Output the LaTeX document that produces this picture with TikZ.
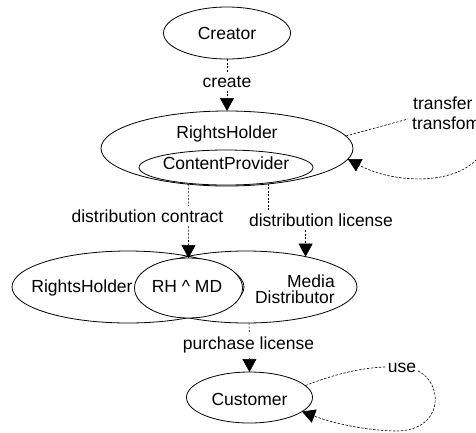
\documentclass[tikz,border=0pt]{standalone}
\usepackage{fontspec}
\setmainfont{Liberation Sans}
\usetikzlibrary{arrows.meta,shapes.geometric,calc}

\begin{document}
\begin{tikzpicture}[x=1pt,y=-1pt,
  every node/.style={font=\fontsize{17.5}{17.5}\selectfont},
  oval/.style={draw, ellipse, line width=0.8pt, inner sep=0pt, outer sep=0pt},
  txt/.style={inner sep=0pt, anchor=base},
  lbl/.style={inner xsep=1.5pt, inner ysep=3pt, anchor=base, fill=white},
  tip/.style={-{Triangle[width=14pt,length=13pt]}},
  flow/.style={tip, line width=0.6pt, dash pattern=on 2pt off 1.5pt},
  loopflow/.style={tip, line width=0.6pt, dash pattern=on 2.5pt off 1.5pt},
]
\useasboundingbox (0,0) rectangle (476,432);
\fill[white] (0,0) rectangle (476,432);
\clip (0,0) rectangle (476,432);

% top: creator
\node[oval, minimum width=127pt, minimum height=52pt] (creator) at (227,33) {};
\node[txt] (creatorT) at (227,39.4) {Creator};

% rights holder with content provider inside
\node[oval, minimum width=252pt, minimum height=75pt] (rh) at (227,148.5) {};
\node[txt] (rhT) at (227,138) {RightsHolder};
\node[oval, minimum width=174pt, minimum height=35pt] (cp) at (226,167.5) {};
\node[txt] (cpT) at (226,169) {ContentProvider};

% overlapping pair: rights holder and media distributor
\node[oval, minimum width=232pt, minimum height=72pt] (rhL) at (128,287) {};
\node[oval, minimum width=222pt, minimum height=72pt] (md) at (246,287) {};
\node[oval, fill=white, minimum width=108pt, minimum height=60pt] (rhmd) at (188.5,288) {};
\node[txt] (rhLT) at (82,292) {RightsHolder};
\node[txt] (rhmdT) at (187,292.5) {RH \textasciicircum{} MD};
\node[txt, anchor=base east] (mdT1) at (335,287) {Media};
\node[txt, anchor=base east] (mdT2) at (335,303.3) {Distributor};

% customer
\node[oval, minimum width=126pt, minimum height=51pt] (cust) at (249.5,397.5) {};
\node[txt] (custT) at (249.5,405) {Customer};

% connectors
\draw[flow] (creator) -- (rh);
\node[lbl] (lcreate) at (227,87) {create};

\draw[flow] (rh.-137.5) -- (rhmd.north);
\node[lbl] (lcontract) at (147.5,222) {distribution contract};

\draw[flow] (rh.-41.6) -- ++(0,36) -| (md.27.3);
\node[lbl] (llicense) at (321,226) {distribution license};

\draw[flow] (md.-85) -- (cust.north);
\node[lbl] (lpurchase) at (248.5,349) {purchase license};

% self loop on the rights holder
\node[txt, anchor=base west] (tr1) at (413,109.5) {transfer};
\node[txt, anchor=base west] (tr2) at (412,129) {transfom};
\coordinate (trin) at (408,119);
\coordinate (trout) at (486,118);
\draw[line width=0.6pt, dash pattern=on 2.5pt off 1.5pt] (rh.6.4) -- (trin);
\draw[loopflow] (trout) .. controls (500,185) and (405,190) .. (rh.-5.4);

% self loop on the customer
\draw[loopflow] (cust.12) .. controls (350,368) and (380,366) .. (402,367)
  .. controls (445,368) and (450,432) .. (395,431)
  .. controls (360,430) and (330,422) .. (cust.-15);
\node[lbl, inner xsep=2pt, inner ysep=2pt] (luse) at (402,372) {use};
\end{tikzpicture}
\end{document}
